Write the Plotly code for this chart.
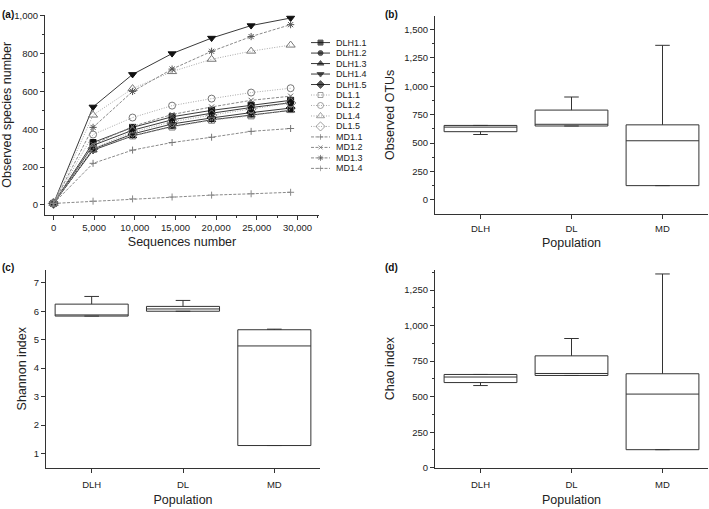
import plotly.graph_objects as go

W, H = 709, 509
FONT = "Liberation Sans, Arial, sans-serif"

# ---- Panel (a) data: rarefaction curves ----
seq_depth = [0, 4860, 9720, 14580, 19440, 24300, 29160]
series_names = ["DLH1.1", "DLH1.2", "DLH1.3", "DLH1.4", "DLH1.5",
                "DL1.1", "DL1.2", "DL1.4", "DL1.5",
                "MD1.1", "MD1.2", "MD1.3", "MD1.4"]
DLH1_1 = [8, 330, 410, 466, 500, 528, 553]
DLH1_2 = [8, 315, 395, 450, 485, 515, 540]
DLH1_3 = [8, 290, 365, 415, 450, 474, 500]
DLH1_4 = [8, 518, 690, 800, 882, 948, 988]
DLH1_5 = [8, 295, 375, 428, 460, 488, 512]
DL1_1 = [8, 295, 365, 412, 448, 471, 504]
DL1_2 = [8, 372, 462, 525, 562, 594, 617]
DL1_4 = [8, 475, 615, 705, 770, 813, 845]
DL1_5 = [8, 300, 385, 440, 475, 508, 539]
MD1_1 = [8, 220, 290, 330, 358, 389, 404]
MD1_2 = [8, 320, 415, 478, 518, 553, 575]
MD1_3 = [8, 410, 600, 718, 812, 890, 953]
MD1_4 = [8, 20, 32, 42, 52, 59, 67]
series_values = [DLH1_1, DLH1_2, DLH1_3, DLH1_4, DLH1_5,
                 DL1_1, DL1_2, DL1_4, DL1_5,
                 MD1_1, MD1_2, MD1_3, MD1_4]

# ---- Box plot data (b, c, d) ----
populations = ["DLH", "DL", "MD"]
otu_q1 = [600, 650, 125]
otu_median = [640, 665, 520]
otu_q3 = [655, 790, 660]
otu_lower = [575, 650, 125]
otu_upper = [655, 905, 1360]

shannon_q1 = [5.83, 6.00, 1.28]
shannon_median = [5.87, 6.08, 4.78]
shannon_q3 = [6.25, 6.17, 5.35]
shannon_lower = [5.83, 6.00, 1.28]
shannon_upper = [6.52, 6.38, 5.37]

chao_q1 = [599, 649, 127]
chao_median = [638, 663, 518]
chao_q3 = [656, 787, 661]
chao_lower = [578, 649, 127]
chao_upper = [656, 909, 1363]

# ---- styles ----
def style_for(name):
    if name.startswith("DLH"):
        return dict(line=dict(color="#3a3a3a", width=1, dash="solid"))
    if name.startswith("DL"):
        return dict(line=dict(color="#a8a8a8", width=1, dash="1px,1.5px"))
    return dict(line=dict(color="#8a8a8a", width=1, dash="3px,1.5px"))

marker_map = {
    "DLH1.1": ("square", "#111", 6),
    "DLH1.2": ("circle", "#111", 6),
    "DLH1.3": ("triangle-up", "#111", 7),
    "DLH1.4": ("triangle-down", "#111", 7),
    "DLH1.5": ("diamond", "#111", 7),
    "DL1.1": ("square-open", "#777", 6),
    "DL1.2": ("circle-open", "#777", 7),
    "DL1.4": ("triangle-up-open", "#777", 8),
    "DL1.5": ("diamond-open", "#777", 8),
    "MD1.1": ("cross-thin-open", "#777", 5),
    "MD1.2": ("x-thin-open", "#666", 5),
    "MD1.3": ("asterisk-open", "#555", 6),
    "MD1.4": ("cross-thin-open", "#888", 5),
}

fig = go.Figure()

for name, vals in zip(series_names, series_values):
    sym, col, sz = marker_map[name]
    st = style_for(name)
    fig.add_trace(go.Scatter(
        x=seq_depth, y=vals, mode="lines+markers", name=name,
        line=st["line"],
        marker=dict(symbol=sym, color=col, size=sz, line=dict(color=col, width=1)),
        xaxis="x", yaxis="y", showlegend=False))

# custom compact legend (samples drawn on a tiny helper axis)
for i, name in enumerate(series_names):
    sym, col, sz = marker_map[name]
    st = style_for(name)
    fig.add_trace(go.Scatter(
        x=[0, 0.5, 1], y=[i, i, i], mode="lines+markers",
        line=st["line"],
        marker=dict(symbol=sym, color=col, size=[0, sz - 1, 0], line=dict(color=col, width=1)),
        xaxis="x5", yaxis="y5", showlegend=False, hoverinfo="skip"))

def add_box(q1, med, q3, lo, hi, xa, ya):
    fig.add_trace(go.Box(
        x=populations, q1=q1, median=med, q3=q3, lowerfence=lo, upperfence=hi,
        width=0.8, whiskerwidth=0.2, fillcolor="white",
        line=dict(color="#333", width=1), boxpoints=False,
        xaxis=xa, yaxis=ya, showlegend=False))

add_box(otu_q1, otu_median, otu_q3, otu_lower, otu_upper, "x2", "y2")
add_box(shannon_q1, shannon_median, shannon_q3, shannon_lower, shannon_upper, "x3", "y3")
add_box(chao_q1, chao_median, chao_q3, chao_lower, chao_upper, "x4", "y4")

def dx(a, b):
    return [a / W, b / W]

def dy(top, bottom):
    return [1 - bottom / H, 1 - top / H]

axis_common = dict(showline=True, linecolor="#333", linewidth=1, ticks="outside",
                   ticklen=4, tickcolor="#333", showgrid=False, zeroline=False,
                   tickfont=dict(family=FONT, size=9.5, color="#222"),
                   title_font=dict(family=FONT, size=12.5, color="#222"))

fig.update_layout(
    width=W, height=H, margin=dict(l=0, r=0, t=0, b=0),
    paper_bgcolor="white", plot_bgcolor="white", showlegend=False,
    font=dict(family=FONT, color="#222"),
    xaxis=dict(domain=dx(45, 319), range=[-1050, 32650], tickvals=[0, 5000, 10000, 15000, 20000, 25000, 30000],
               tickformat=",d", minor=dict(dtick=2500, tick0=0, ticklen=2, ticks="outside", tickcolor="#333"),
               title=dict(text="Sequences number", standoff=5), anchor="y", **axis_common),
    yaxis=dict(domain=dy(10, 214), range=[-52, 1005], dtick=200, tickformat=",d",
               minor=dict(dtick=100, tick0=0, ticklen=2, ticks="outside", tickcolor="#333"),
               title=dict(text="Observed species number", standoff=4), anchor="x", **axis_common),
    xaxis2=dict(domain=dx(435, 708), range=[-0.5, 2.5], type="category",
                categoryorder="array", categoryarray=populations, ticklabelstandoff=2,
                title=dict(text="Population", standoff=5), anchor="y2", **axis_common),
    yaxis2=dict(domain=dy(11, 213), range=[-123, 1620], dtick=250, tickformat=",d",
                minor=dict(dtick=125, tick0=0, ticklen=2, ticks="outside", tickcolor="#333"),
                title=dict(text="Observed OTUs", standoff=6), anchor="x2", **axis_common),
    xaxis3=dict(domain=dx(46, 320), range=[-0.5, 2.5], type="category",
                categoryorder="array", categoryarray=populations, ticklabelstandoff=4,
                title=dict(text="Population", standoff=6), anchor="y3", **axis_common),
    yaxis3=dict(domain=dy(270, 472), range=[0.5, 7.46], dtick=1,
                title=dict(text="Shannon index", standoff=4), anchor="x3", **axis_common),
    xaxis4=dict(domain=dx(435, 708), range=[-0.5, 2.5], type="category",
                categoryorder="array", categoryarray=populations, ticklabelstandoff=4,
                title=dict(text="Population", standoff=6), anchor="y4", **axis_common),
    yaxis4=dict(domain=dy(270, 472), range=[0, 1393], dtick=250, tickformat=",d",
                minor=dict(dtick=125, tick0=0, ticklen=2, ticks="outside", tickcolor="#333"),
                title=dict(text="Chao index", standoff=6), anchor="x4", **axis_common),
    xaxis5=dict(domain=dx(311, 330), range=[0, 1], visible=False, fixedrange=True),
    yaxis5=dict(domain=dy(33, 172), range=[12.5, -0.5], visible=False, fixedrange=True),
)

annotations = []
for i, name in enumerate(series_names):
    annotations.append(dict(xref="x5", yref="y5", x=1, y=i, text=name, showarrow=False,
                            xanchor="left", yanchor="middle", xshift=4,
                            font=dict(family=FONT, size=9, color="#222")))
for lbl, x, y in [("(a)", 0, 2), ("(b)", 383, 2), ("(c)", 0, 260), ("(d)", 383, 260)]:
    annotations.append(dict(xref="paper", yref="paper", x=x / W, y=1 - y / H, text=f"<b>{lbl}</b>",
                            showarrow=False, xanchor="left", yanchor="top",
                            font=dict(family=FONT, size=10, color="#111")))
fig.update_layout(annotations=annotations)

fig.write_html("out.html", config={"displayModeBar": False},
               post_script="document.body.style.margin='0';")
